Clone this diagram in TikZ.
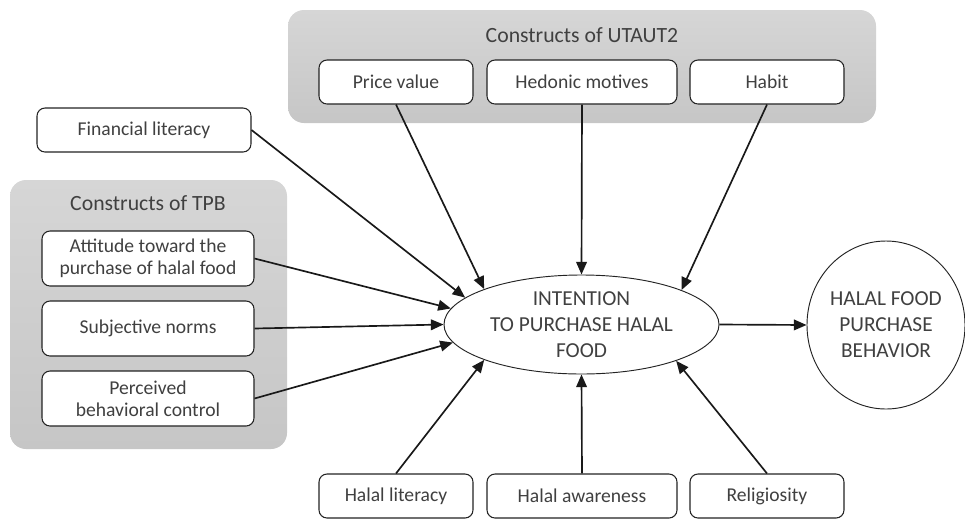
\documentclass[tikz,border=0pt]{standalone}
\usepackage{fontspec}
\setmainfont{Carlito}
\usetikzlibrary{shapes.geometric,arrows.meta}
\definecolor{txt}{RGB}{64,64,64}
\definecolor{edge}{RGB}{35,35,35}
\definecolor{paneltop}{RGB}{214,214,214}
\definecolor{panelbot}{RGB}{198,198,198}
\begin{document}
\begin{tikzpicture}[x=0.75pt,y=-0.75pt,
  box/.style={draw=edge, line width=0.8pt, rounded corners=6pt, fill=white, text=txt,
    font=\fontsize{14.7}{16.5}\selectfont, align=center, inner sep=0pt},
  smallbox/.style={box, minimum width=115.5pt, minimum height=33pt},
  tpbbox/.style={box, minimum width=159pt, minimum height=41.25pt},
  panel/.style={rounded corners=12pt, top color=paneltop, bottom color=panelbot, draw=none},
  title/.style={text=txt, font=\fontsize{16.3}{18}\selectfont, inner sep=0pt},
  bigtext/.style={text=txt, font=\fontsize{16}{19.5}\selectfont, align=center, inner sep=0pt},
  arr/.style={line width=1.25pt, draw=black!90, -{Triangle[length=9.5pt,width=8pt]}}]
\useasboundingbox (0,0) rectangle (965,519);

% panels
\path[panel] (10,180) rectangle (287,449);
\path[panel] (288,10) rectangle (876,123);
\node[title] (tpbt) at (148,203) {Constructs of TPB};
\node[title] (utt) at (582,35) {Constructs of UTAUT2};

% left boxes
\node[box, minimum width=160.5pt, minimum height=33pt] (fin) at (144,130) {Financial literacy};
\node[tpbbox] (att) at (148,258.5) {Attitude toward the\\purchase of halal food};
\node[tpbbox] (subj) at (148,328.5) {Subjective norms};
\node[tpbbox] (perc) at (148,398.5) {Perceived\\behavioral control};

% top boxes
\node[smallbox] (price) at (396,82) {Price value};
\node[smallbox, minimum width=142.5pt] (hed) at (582,82) {Hedonic motives};
\node[smallbox] (habit) at (767,82) {Habit};

% bottom boxes
\node[smallbox] (hlit) at (396,496) {Halal literacy};
\node[smallbox, minimum width=142.5pt] (haw) at (582,496) {Halal awareness};
\node[smallbox] (rel) at (767,496) {Religiosity};

% ellipse and circle
\node[ellipse, draw=edge, line width=0.7pt, fill=white, minimum width=206.25pt, minimum height=74.25pt, bigtext] (int) at (581.5,324.5) {INTENTION\\TO PURCHASE HALAL\\FOOD};
\node[ellipse, draw=edge, line width=0.7pt, fill=white, minimum width=117pt, minimum height=126pt, bigtext] (beh) at (886,325) {HALAL FOOD\\PURCHASE\\BEHAVIOR};

% arrows
\draw[arr] (fin.east) -- (int.167.3);
\draw[arr] (att.east) -- (int.173.4);
\draw[arr] (subj.east) -- (int.180.6);
\draw[arr] (perc.east) -- (int.188.2);
\draw[arr] (price.south) -- (int.160.7);
\draw[arr] (hed.south) -- (int.90);
\draw[arr] (habit.south) -- (int.19.1);
\draw[arr] (hlit.north) -- (int.200.8);
\draw[arr] (haw.north) -- (int.270);
\draw[arr] (rel.north) -- (int.339.3);
\draw[arr] (int.east) -- (beh.west);
\end{tikzpicture}
\end{document}
